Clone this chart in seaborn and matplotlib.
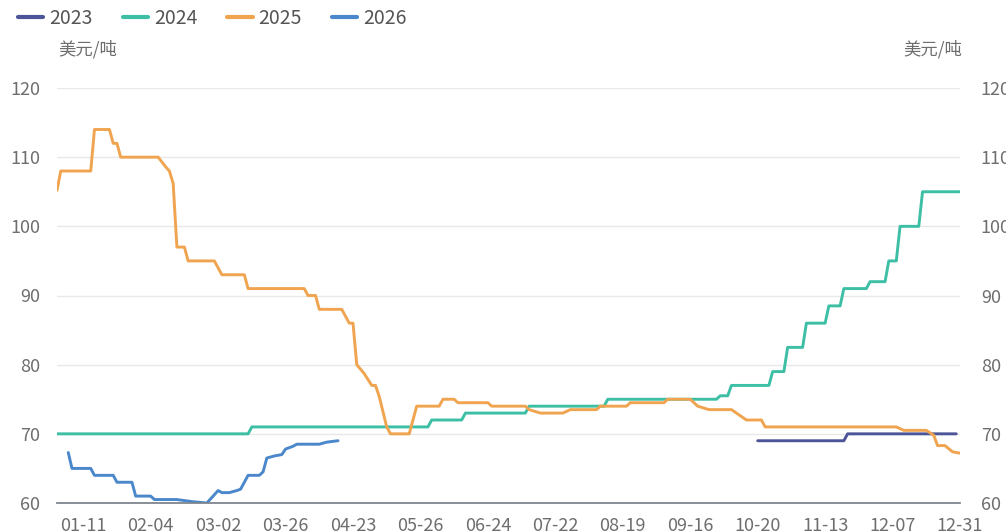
import matplotlib
matplotlib.use("Agg")
import matplotlib.pyplot as plt
import pandas as pd
import seaborn as sns

# axe des x : indice de jour (0 = bord gauche), étiquettes tous les 18 points
etiquettes_x = ["01-11", "02-04", "03-02", "03-26", "04-23", "05-26", "06-24",
                "07-22", "08-19", "09-16", "10-20", "11-13", "12-07", "12-31"]

x_2023 = [187, 210, 211, 240]
y_2023 = [69, 69, 70, 70]

x_2024 = [0, 51, 52, 99, 100, 108, 109, 125, 126, 146, 147, 176, 177, 179, 180,
          190, 191, 194, 195, 199, 200, 205, 206, 209, 210, 216, 217, 221, 222,
          224, 225, 230, 231, 241]
y_2024 = [70, 70, 71, 71, 72, 72, 73, 73, 74, 74, 75, 75, 75.5, 75.5, 77,
          77, 79, 79, 82.5, 82.5, 86, 86, 88.5, 88.5, 91, 91, 92, 92, 95,
          95, 100, 100, 105, 105]

x_2025 = [0, 1, 9, 10, 14, 15, 16, 17, 27, 29, 30, 31, 32, 34, 35, 42, 44, 50, 51,
          66, 67, 69, 70, 76, 78, 79, 80, 82, 84, 85, 86, 88, 89, 94, 96, 102,
          103, 106, 107, 115, 116, 125, 126, 129, 135, 137, 144, 145, 152, 153,
          162, 163, 169, 171, 174, 180, 184, 188, 189, 224, 226, 232, 234, 235,
          237, 239, 241]
y_2025 = [105.2, 108, 108, 114, 114, 112, 112, 110, 110, 108.6, 108, 106.2, 97, 97, 95, 95, 93, 93, 91,
          91, 90, 90, 88, 88, 86, 86, 80, 78.7, 77, 77, 75.4, 71, 70, 70, 74, 74,
          75, 75, 74.5, 74.5, 74, 74, 73.5, 73, 73, 73.5, 73.5, 74, 74, 74.5,
          74.5, 75, 75, 74, 73.5, 73.5, 72, 72, 71, 71, 70.5, 70.5, 69.8, 68.3,
          68.3, 67.4, 67.2]

x_2026 = [3, 4, 9, 10, 15, 16, 20, 21, 25, 26, 32, 36, 40, 43, 44, 46, 48, 49,
          51, 54, 55, 56, 58, 60, 61, 63, 64, 70, 72, 75]
y_2026 = [67.3, 65, 65, 64, 64, 63, 63, 61, 61, 60.5, 60.5, 60.2, 60, 61.8, 61.5, 61.5, 61.8, 62,
          64, 64, 64.5, 66.5, 66.8, 67, 67.8, 68.2, 68.5, 68.5, 68.8, 69]

annees = ["2023", "2024", "2025", "2026"]
couleurs = ["#4b5597", "#3dbfa6", "#f0a44f", "#4a87cb"]

df = pd.concat([
    pd.DataFrame({"x": x_2023, "y": y_2023, "annee": "2023"}),
    pd.DataFrame({"x": x_2024, "y": y_2024, "annee": "2024"}),
    pd.DataFrame({"x": x_2025, "y": y_2025, "annee": "2025"}),
    pd.DataFrame({"x": x_2026, "y": y_2026, "annee": "2026"}),
], ignore_index=True)

sns.set_style("white")
plt.rcParams["font.family"] = ["Noto Sans CJK SC", "DejaVu Sans"]

fig = plt.figure(figsize=(10.06, 5.31), dpi=100)
ax = fig.add_axes([57 / 1006, 28 / 531, 903 / 1006, 415 / 531])

sns.lineplot(data=df, x="x", y="y", hue="annee", hue_order=annees,
             palette=couleurs, sort=False, estimator=None, linewidth=2.1, ax=ax)

ax.set_xlim(0, 241)
ax.set_ylim(60, 120)
ax.set_xlabel("")
ax.set_ylabel("")

# grille horizontale légère
for v in range(70, 121, 10):
    ax.axhline(v, color="#e8e8e8", linewidth=1, zorder=0)

ax.set_xticks([7 + 18 * i for i in range(len(etiquettes_x))])
ax.set_xticklabels(etiquettes_x)
ax.set_yticks(range(60, 121, 10))
ax.tick_params(axis="x", length=0, pad=10, labelsize=13, labelcolor="#6e6e6e")
ax.tick_params(axis="y", length=0, pad=12, labelsize=13, labelcolor="#6e6e6e")

for s in ["top", "right", "left"]:
    ax.spines[s].set_visible(False)
ax.spines["bottom"].set_color("#80858f")
ax.spines["bottom"].set_linewidth(1.3)

# axe de droite, même échelle
ax2 = ax.twinx()
ax2.set_ylim(60, 120)
ax2.set_yticks(range(60, 121, 10))
ax2.tick_params(axis="y", length=0, pad=15, labelsize=13, labelcolor="#6e6e6e")
for s in ax2.spines.values():
    s.set_visible(False)

fig.text(58 / 1006, 1 - 49 / 531, "美元/吨", ha="left", va="center",
         fontsize=12.5, color="#6e6e6e")
fig.text(962 / 1006, 1 - 49 / 531, "美元/吨", ha="right", va="center",
         fontsize=12.5, color="#6e6e6e")

handles, labels = ax.get_legend_handles_labels()
ax.get_legend().remove()
leg = fig.legend(handles, labels, loc="center left", bbox_to_anchor=(18 / 1006, 1 - 18 / 531),
                 ncol=4, frameon=False, fontsize=14, handlelength=1.3, handletextpad=0.3,
                 columnspacing=1.55, borderpad=0, borderaxespad=0)
for t in leg.get_texts():
    t.set_color("#555555")
for h in leg.get_lines():
    h.set_linewidth(3)

fig.savefig("out.png", dpi=100)
